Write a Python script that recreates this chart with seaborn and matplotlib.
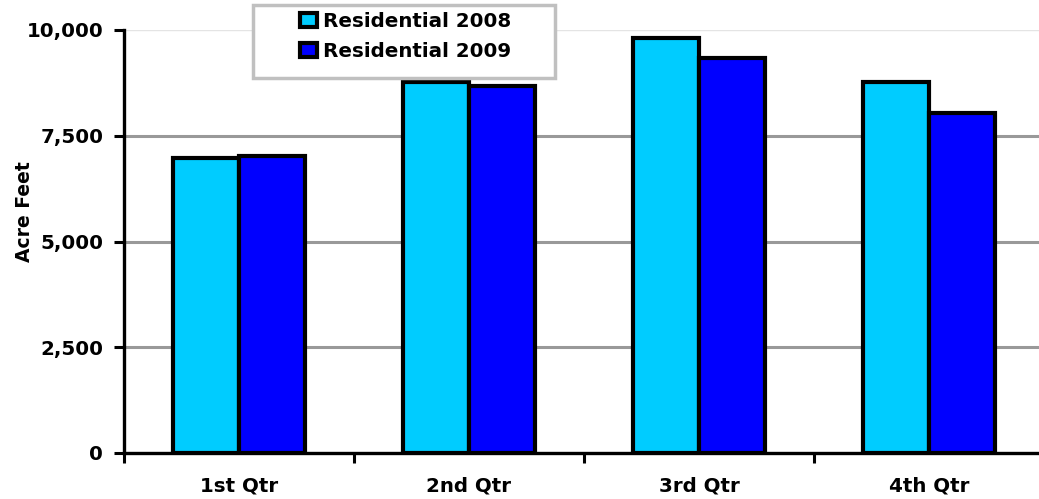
import matplotlib
matplotlib.use("Agg")
import matplotlib.pyplot as plt
from matplotlib.patches import Patch, Rectangle
from matplotlib.ticker import FuncFormatter, FixedLocator
import pandas as pd
import seaborn as sns

# Quarterly residential water use (acre feet)
quarters = ["1st Qtr", "2nd Qtr", "3rd Qtr", "4th Qtr"]
series_names = ["Residential 2008", "Residential 2009"]
use_2008 = [6980, 8770, 9810, 8760]
use_2009 = [7010, 8670, 9340, 8030]
y_ticks = [0, 2500, 5000, 7500, 10000]
bar_colors = ["#00CCFF", "#0000FF"]

df = pd.DataFrame({
    "quarter": quarters * 2,
    "series": [series_names[0]] * 4 + [series_names[1]] * 4,
    "acre_feet": use_2008 + use_2009,
})

sns.set_style("white")
plt.rcParams["font.family"] = ["DejaVu Sans"]
plt.rcParams["font.weight"] = "bold"
plt.rcParams["text.color"] = "black"
plt.rcParams["axes.labelcolor"] = "black"
plt.rcParams["xtick.color"] = "black"
plt.rcParams["ytick.color"] = "black"

W, H = 1039, 499
fig = plt.figure(figsize=(W / 100, H / 100), dpi=100)
ax = fig.add_axes([124 / W, 46 / H, 920 / W, 423 / H])

sns.barplot(
    data=df, x="quarter", y="acre_feet", hue="series",
    order=quarters, hue_order=series_names,
    palette=bar_colors, saturation=1, width=0.57, gap=0,
    edgecolor="black", linewidth=3, errorbar=None, legend=False,
    ax=ax, zorder=3,
)

ax.set_xlim(-0.5, 3.5)
ax.set_ylim(0, 10000)

# y axis
ax.yaxis.set_major_locator(FixedLocator(y_ticks))
ax.yaxis.set_major_formatter(FuncFormatter(lambda v, p: f"{int(v):,}"))
ax.tick_params(axis="y", which="major", direction="out", length=7, width=2.2,
               color="black", labelcolor="black", labelsize=14.3, pad=8, left=True)
for lbl in ax.get_yticklabels():
    lbl.set_fontweight("bold")

# horizontal gridlines
ax.yaxis.grid(True, color="#999999", linewidth=2.2, zorder=0)
ax.set_axisbelow(True)
grid_lines = ax.get_ygridlines()
grid_lines[-1].set_color("#e4e4e4")
grid_lines[-1].set_linewidth(1.0)

# x axis: labels at category centres, tick marks between categories
ax.set_xticks(range(len(quarters)))
ax.set_xticklabels(quarters, fontsize=14.3, fontweight="bold", color="black")
ax.xaxis.set_minor_locator(FixedLocator([i - 0.5 for i in range(len(quarters) + 1)]))
ax.tick_params(axis="x", which="major", length=0, pad=17)
ax.tick_params(axis="x", which="minor", direction="out", length=7, width=2.2,
               color="black", bottom=True)

ax.set_xlabel("")
ax.set_ylabel("Acre Feet", fontsize=13.5, fontweight="bold", color="black")
ax.yaxis.set_label_coords(-90 / 920, 0.57)

for side in ("top", "right"):
    ax.spines[side].set_visible(False)
for side in ("left", "bottom"):
    ax.spines[side].set_color("black")
    ax.spines[side].set_linewidth(2.4)

# legend box
fig.patches.append(Rectangle(
    (253 / W, 1 - 78 / H), 302 / W, 73 / H, transform=fig.transFigure,
    facecolor="white", edgecolor="#c0c0c0", linewidth=2.5, zorder=4,
))
handles = [Patch(facecolor=c, edgecolor="black", linewidth=3) for c in bar_colors]
leg = fig.legend(
    handles, series_names,
    loc="upper left", bbox_to_anchor=(300 / W, 1 - 12 / H),
    ncols=1, prop={"size": 14.3, "weight": "bold"},
    frameon=False,
    handlelength=0.85, handleheight=0.7, handletextpad=0.3,
    labelspacing=0.55, borderpad=0, borderaxespad=0,
)
leg.set_zorder(5)

fig.savefig("out.png", dpi=100)
